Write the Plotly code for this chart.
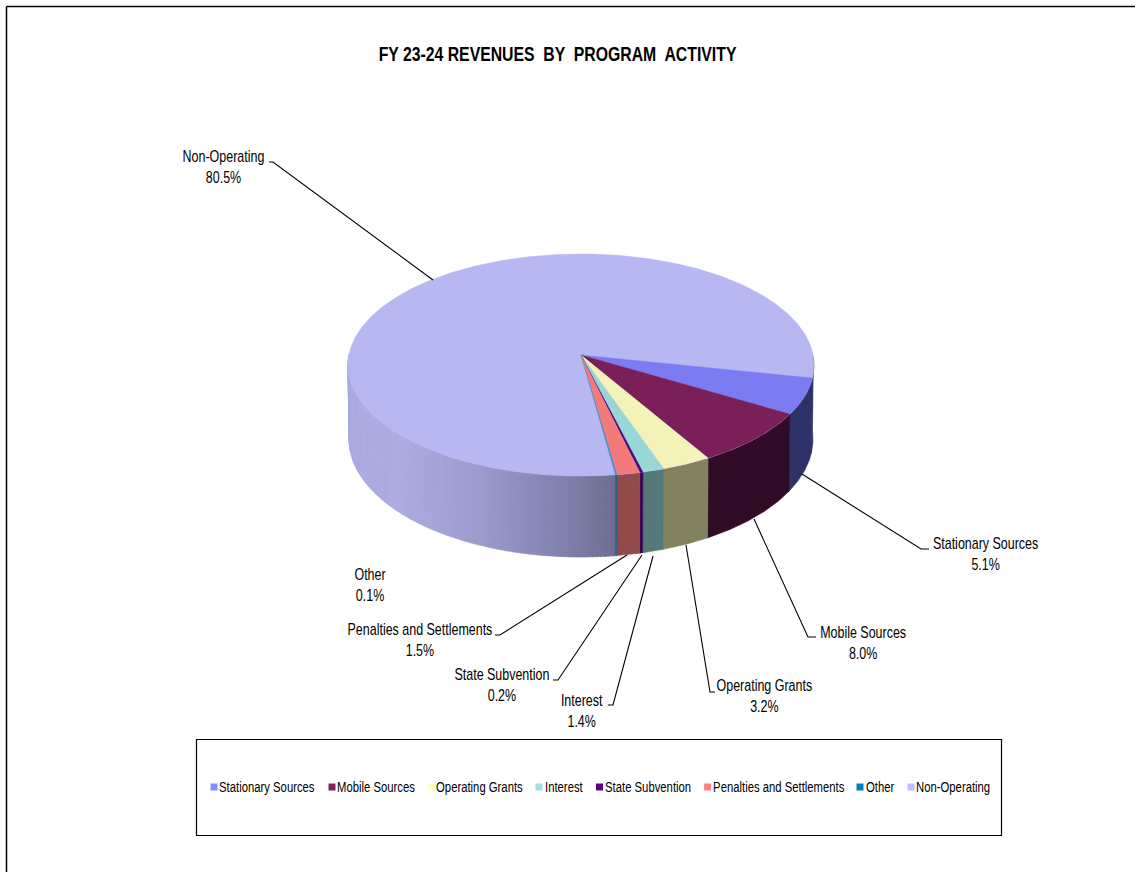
import math
import plotly.graph_objects as go

categories = ["Stationary Sources", "Mobile Sources", "Operating Grants", "Interest",
              "State Subvention", "Penalties and Settlements", "Other", "Non-Operating"]
percents = [5.1, 8.0, 3.2, 1.4, 0.2, 1.5, 0.1, 80.5]
top_colors = ["#7B7BF2", "#7B1F59", "#F3F2B8", "#99D6D6", "#4B0A7A", "#F37A7A", "#3A90C8", "#B7B7F2"]
wall_colors = ["#2F3268", "#300B26", "#82825E", "#557878", "#350055", "#924A4A", "#2A5A80", None]
legend_colors = ["#8A8AFF", "#85205F", "#FFFFC0", "#A0E0E0", "#600080", "#FF8080", "#0080C0", "#C0C0FF"]
title_text = "FY 23-24 REVENUES  BY  PROGRAM  ACTIVITY"

FONT = "Liberation Sans, Arial"
APEX = (581, 355)
TOP = dict(cx=581, cy=365, rx=233, ry=111)
BOT = dict(cx=581, cy=439, rx=232, ry=118)
START = 6.7        # visual angle of the first slice edge
DEG_PER_PCT = 3.836  # includes the perspective stretch on the front of the pie


def pt(e, t):
    a = math.radians(t)
    return e["cx"] + e["rx"] * math.cos(a), e["cy"] + e["ry"] * math.sin(a)


def arc(e, a, b):
    n = max(2, int(abs(b - a) / 0.5) + 1)
    return [pt(e, a + (b - a) * i / (n - 1)) for i in range(n)]


def poly(points, color, name=None, lw=0.6):
    xs = [p[0] for p in points] + [points[0][0]]
    ys = [p[1] for p in points] + [points[0][1]]
    return go.Scatter(x=xs, y=ys, mode="lines", fill="toself", fillcolor=color,
                      line=dict(color=color, width=lw), hoverinfo="skip",
                      showlegend=False, name=name)


def wall(a, b, color):
    return poly(arc(TOP, a, b) + arc(BOT, b, a), color)


def mix(stops, x):
    for (x0, c0), (x1, c1) in zip(stops, stops[1:]):
        if x <= x1:
            f = max(0, (x - x0) / (x1 - x0))
            return "rgb(%d,%d,%d)" % tuple(round(u + (v - u) * f) for u, v in zip(c0, c1))
    return "rgb(%d,%d,%d)" % stops[-1][1]


gradient = [(348, (170, 170, 224)), (400, (172, 172, 226)), (480, (155, 155, 205)),
            (560, (130, 130, 175)), (615, (110, 110, 145))]

# slice edges from the percentages
edges = [START]
for p in percents[:-1]:
    edges.append(edges[-1] + p * DEG_PER_PCT)

fig = go.Figure()

# walls
for t in range(int(edges[-1]), 186):
    a = max(t, edges[-1])
    fig.add_trace(wall(a, t + 1.2, mix(gradient, pt(TOP, a + 0.5)[0])))
fig.add_trace(wall(-4, edges[0], wall_colors[0]))
for i in range(7):
    fig.add_trace(wall(edges[i], edges[i + 1], wall_colors[i]))

# top
fig.add_trace(poly(arc(TOP, 0, 360), top_colors[7], categories[7]))
for i in range(7):
    fig.add_trace(poly([APEX] + arc(TOP, edges[i], edges[i + 1]), top_colors[i], categories[i], lw=0.3))

# leader lines
leaders = [
    [(269, 162), (273, 162), (433, 280)],
    [(802, 474), (921, 549), (929, 549)],
    [(754, 519), (808, 637), (816, 637)],
    [(686, 545), (710, 692), (715, 692)],
    [(653, 556), (613, 705), (608, 705)],
    [(642, 555), (558, 680), (553, 680)],
    [(627, 555), (500, 635), (495, 635)],
]
for seg in leaders:
    fig.add_trace(go.Scatter(x=[p[0] for p in seg], y=[p[1] for p in seg], mode="lines",
                             line=dict(color="black", width=1.1), hoverinfo="skip", showlegend=False))

# data labels
label_pos = {"Non-Operating": (223.5, 166.5), "Stationary Sources": (985, 553.5), "Mobile Sources": (863, 642.5),
             "Operating Grants": (764, 696), "Interest": (582, 711), "State Subvention": (502, 684.5),
             "Penalties and Settlements": (420, 639.5), "Other": (370, 585)}
annotations = []
for c, p in zip(categories, percents):
    x, y = label_pos[c]
    annotations.append(dict(x=x, y=y, xref="x", yref="y", text=f"{c}<br>{p:.1f}%", showarrow=False,
                            align="center", font=dict(family=FONT, size=16, color="black")))

# legend
sw_x = [211, 329, 429, 536, 596.5, 704.6, 857, 908]
tx_x = [217, 334.5, 434, 543, 602.5, 711, 864, 914]
LEG_Y = 786
for c, col, sx, tx in zip(categories, legend_colors, sw_x, tx_x):
    fig.add_trace(go.Scatter(x=[sx + 3], y=[LEG_Y + 1], mode="markers",
                             marker=dict(symbol="square", size=7, color=col, line=dict(width=0)),
                             hoverinfo="skip", showlegend=False, name=c))
    annotations.append(dict(x=tx, y=LEG_Y, xref="x", yref="y", text=c, showarrow=False, xanchor="left",
                            font=dict(family=FONT, size=15, color="black")))

annotations.append(dict(x=558, y=53.5, xref="x", yref="y", text=f"<b>{title_text}</b>", showarrow=False,
                        font=dict(family=FONT, size=20, color="black")))

shapes = [
    dict(type="rect", x0=196.5, y0=739.5, x1=1001.5, y1=835.5, line=dict(color="black", width=1.2), xref="x", yref="y"),
    dict(type="line", x0=6.5, y0=6.5, x1=6.5, y1=872, line=dict(color="black", width=1.5), xref="x", yref="y"),
    dict(type="line", x0=6.5, y0=6.5, x1=1135, y1=6.5, line=dict(color="black", width=1.5), xref="x", yref="y"),
]

fig.update_layout(width=1135, height=872, margin=dict(l=0, r=0, t=0, b=0), paper_bgcolor="white",
                  plot_bgcolor="white", annotations=annotations, shapes=shapes, showlegend=False,
                  xaxis=dict(range=[0, 1135], visible=False, fixedrange=True),
                  yaxis=dict(range=[872, 0], visible=False, fixedrange=True))

# the reference's text is condensed: narrow every annotation horizontally, keeping it real text
post = """
document.body.style.margin='0';document.body.style.overflow='hidden';
(function(){
  var gd=document.getElementById('{plot_id}');
  var squeeze={15:0.754,16:0.78,20:0.79};
  function apply(){
    gd.querySelectorAll('.annotation').forEach(function(g){
      var i=+g.getAttribute('data-index'), a=gd.layout.annotations[i];
      var t=g.querySelector('text'); var b=t.getBBox();
      var px=(a.xanchor==='left')?b.x:b.x+b.width/2;
      var s=squeeze[a.font.size]||1;
      t.setAttribute('transform','translate('+px+',0) scale('+s+',1) translate('+(-px)+',0)');
    });
  }
  apply(); setTimeout(apply,100);
})();
"""
fig.write_html("out.html", post_script=post, config={"displayModeBar": False})
